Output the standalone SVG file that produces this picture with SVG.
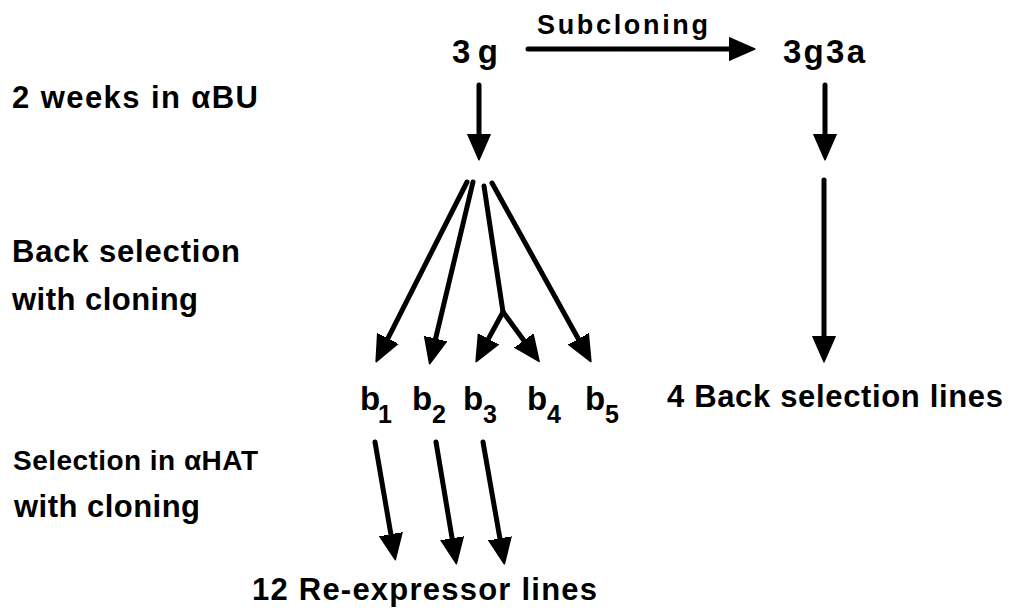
<svg xmlns="http://www.w3.org/2000/svg" width="1017" height="609" viewBox="0 0 1017 609">
  <style>
    .lbl { font-family: "Liberation Sans", Arial, sans-serif; font-weight: bold; fill: #000; }
    .step { font-size: 31px; }
    .node { font-size: 33px; }
    .sub { font-size: 25px; }
    .edge { fill: none; stroke: #000; stroke-width: 5; stroke-linecap: round; marker-end: url(#head); }
    .plain { fill: none; stroke: #000; stroke-width: 5; stroke-linecap: round; }
  </style>
  <defs>
    <marker id="head" markerUnits="userSpaceOnUse" markerWidth="30" markerHeight="26" viewBox="0 -12 28 24" refX="0" refY="0" orient="auto">
      <path d="M0,-10.5 L24,0 L0,10.5 z" fill="#000" stroke="#000" stroke-width="1.5" stroke-linejoin="round"/>
    </marker>
  </defs>

  <rect width="1017" height="609" fill="#fff"/>

  <!-- step captions on the left -->
  <g id="step-abu">
    <text class="lbl step" x="12" y="108" textLength="246">2 weeks in αBU</text>
  </g>
  <g id="step-back">
    <text class="lbl step" x="12" y="262" textLength="228">Back selection</text>
    <text class="lbl step" x="12" y="310" textLength="186">with cloning</text>
  </g>
  <g id="step-hat">
    <text class="lbl" x="13" y="470" font-size="28" textLength="245">Selection in αHAT</text>
    <text class="lbl step" x="14" y="517" textLength="186">with cloning</text>
  </g>

  <!-- clone nodes -->
  <g id="n-3g">
    <text class="lbl node" x="452" y="63" textLength="46">3g</text>
  </g>
  <g id="n-3g3a">
    <text class="lbl node" x="783" y="63" textLength="82">3g3a</text>
  </g>
  <g id="n-b1">
    <text class="lbl node" x="360" y="410">b</text>
    <text class="lbl sub" x="378" y="423">1</text>
  </g>
  <g id="n-b2">
    <text class="lbl node" x="412" y="410">b</text>
    <text class="lbl sub" x="432" y="423">2</text>
  </g>
  <g id="n-b3">
    <text class="lbl node" x="463" y="410">b</text>
    <text class="lbl sub" x="483" y="423">3</text>
  </g>
  <g id="n-b4">
    <text class="lbl node" x="527" y="410">b</text>
    <text class="lbl sub" x="547" y="423">4</text>
  </g>
  <g id="n-b5">
    <text class="lbl node" x="585" y="410">b</text>
    <text class="lbl sub" x="605" y="423">5</text>
  </g>
  <g id="n-back-lines">
    <text class="lbl step" x="667" y="407" textLength="336">4 Back selection lines</text>
  </g>
  <g id="n-reexpressor">
    <text class="lbl step" x="252" y="600" textLength="345">12 Re-expressor lines</text>
  </g>

  <!-- connectors -->
  <g id="connectors">
    <text class="lbl" x="537" y="34" font-size="27" textLength="171">Subcloning</text>
    <path class="edge" d="M528,49 L729,49"/>
    <path class="edge" d="M479,85 L479,134"/>
    <path class="edge" d="M825,85 L825,134"/>
    <path class="edge" d="M824,180 L824,336"/>
    <path class="edge" d="M467,182 L387.8,338.6"/>
    <path class="edge" d="M473,182 L435.6,338.7"/>
    <path class="plain" d="M484,186 L503,312"/>
    <path class="edge" d="M503,312 L488.4,338.9"/>
    <path class="edge" d="M503,312 L523.9,340.6"/>
    <path class="edge" d="M492,183 L578.4,339"/>
    <path class="edge" d="M375,442 L390.9,534.3"/>
    <path class="edge" d="M436,442 L452.1,538.3"/>
    <path class="edge" d="M483,442 L499.9,538.4"/>
  </g>
</svg>
